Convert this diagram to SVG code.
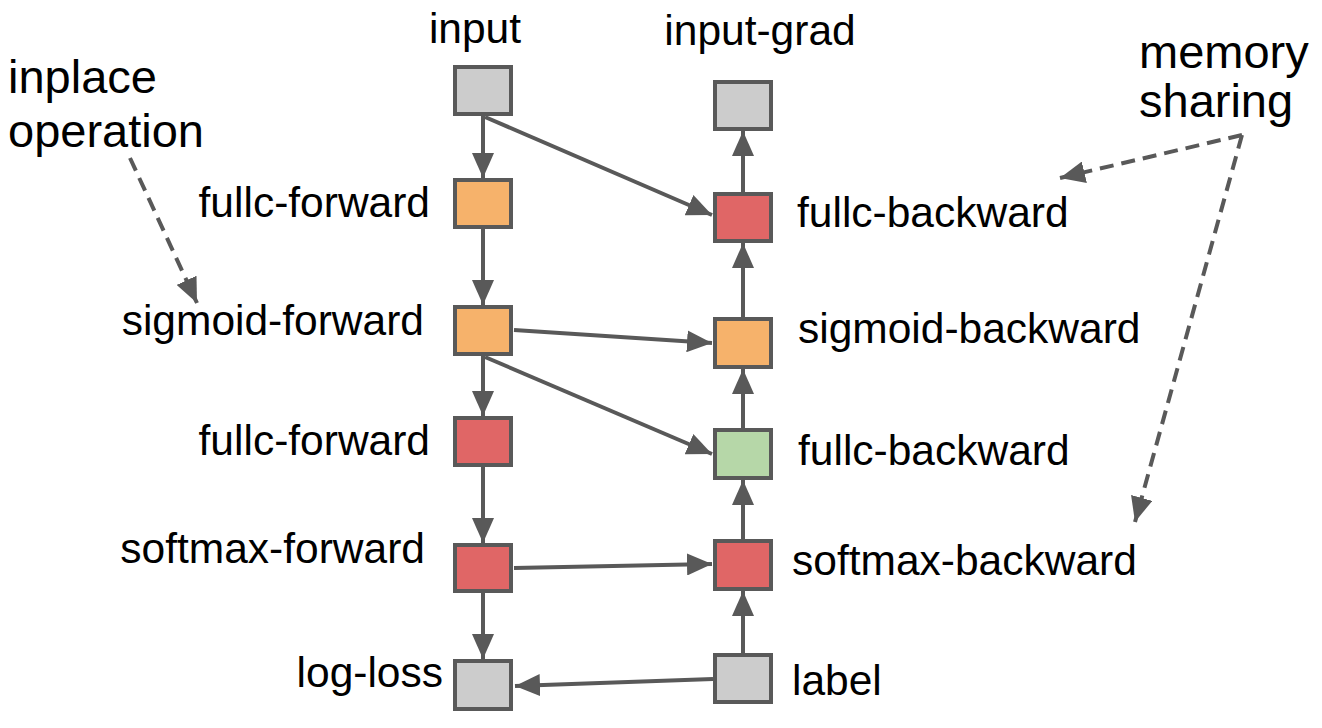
<svg xmlns="http://www.w3.org/2000/svg" width="1322" height="728" viewBox="0 0 1322 728">
<defs>
<style>
.box{stroke:#595959;stroke-width:4}
.gray{fill:#cccccc}.orange{fill:#f6b26b}.red{fill:#e06666}.green{fill:#b6d7a8}
.lbl{font-family:"Liberation Sans",Arial,sans-serif;font-size:42.5px;fill:#000}
.note{font-family:"Liberation Sans",Arial,sans-serif;font-size:47px;fill:#000}
.edge{stroke:#595959;stroke-width:4;fill:none;marker-end:url(#ah)}
.dash{stroke:#595959;stroke-width:4;fill:none;stroke-dasharray:14 8;marker-end:url(#ah)}
</style>
<marker id="ah" markerUnits="userSpaceOnUse" markerWidth="25" markerHeight="22" refX="25" refY="11" orient="auto">
<path d="M0,0 L25,11 L0,22 z" fill="#595959"/>
</marker>
</defs>
<rect width="1322" height="728" fill="#ffffff"/>
<g id="connectors">
<line class="edge" x1="483" y1="116" x2="483" y2="178"/>
<line class="edge" x1="483" y1="229" x2="483" y2="305"/>
<line class="edge" x1="483" y1="356" x2="483" y2="416"/>
<line class="edge" x1="483" y1="467" x2="483" y2="543"/>
<line class="edge" x1="483" y1="593" x2="483" y2="659"/>
<line class="edge" x1="485" y1="117" x2="712" y2="215"/>
<line class="edge" x1="514" y1="330" x2="712" y2="343"/>
<line class="edge" x1="485" y1="357" x2="712" y2="454"/>
<line class="edge" x1="514" y1="568" x2="712" y2="564"/>
<line class="edge" x1="713" y1="679" x2="515" y2="686"/>
<line class="edge" x1="743" y1="653" x2="743" y2="591"/>
<line class="edge" x1="743" y1="539" x2="743" y2="480"/>
<line class="edge" x1="743" y1="428" x2="743" y2="369"/>
<line class="edge" x1="743" y1="317" x2="743" y2="243"/>
<line class="edge" x1="743" y1="192" x2="743" y2="131"/>
<line class="dash" x1="130" y1="158" x2="197" y2="303"/>
<line class="dash" x1="1242" y1="135" x2="1060" y2="178"/>
<line class="dash" x1="1242" y1="135" x2="1135" y2="522"/>
</g>
<g id="node-input"><rect class="box gray" x="455" y="67" width="56" height="47"/><text class="lbl" x="475" y="43" text-anchor="middle">input</text></g>
<g id="node-fullc-forward-1"><rect class="box orange" x="455" y="180" width="56" height="47"/><text class="lbl" x="430" y="217" text-anchor="end">fullc-forward</text></g>
<g id="node-sigmoid-forward"><rect class="box orange" x="455" y="307" width="56" height="47"/><text class="lbl" x="424" y="335" text-anchor="end">sigmoid-forward</text></g>
<g id="node-fullc-forward-2"><rect class="box red" x="455" y="418" width="56" height="47"/><text class="lbl" x="430" y="455" text-anchor="end">fullc-forward</text></g>
<g id="node-softmax-forward"><rect class="box red" x="455" y="545" width="56" height="46"/><text class="lbl" x="425" y="563" text-anchor="end">softmax-forward</text></g>
<g id="node-log-loss"><rect class="box gray" x="455" y="661" width="56" height="48"/><text class="lbl" x="443" y="687" text-anchor="end">log-loss</text></g>
<g id="node-input-grad"><rect class="box gray" x="715" y="82" width="56" height="47"/><text class="lbl" x="760" y="45" text-anchor="middle">input-grad</text></g>
<g id="node-fullc-backward-1"><rect class="box red" x="715" y="194" width="56" height="47"/><text class="lbl" x="797" y="227">fullc-backward</text></g>
<g id="node-sigmoid-backward"><rect class="box orange" x="715" y="319" width="56" height="48"/><text class="lbl" x="798" y="343">sigmoid-backward</text></g>
<g id="node-fullc-backward-2"><rect class="box green" x="715" y="430" width="56" height="48"/><text class="lbl" x="798" y="465">fullc-backward</text></g>
<g id="node-softmax-backward"><rect class="box red" x="715" y="541" width="56" height="48"/><text class="lbl" x="792" y="575">softmax-backward</text></g>
<g id="node-label"><rect class="box gray" x="715" y="655" width="56" height="47"/><text class="lbl" x="792" y="695">label</text></g>
<g id="note-inplace"><text class="note" x="8" y="93">inplace</text><text class="note" x="8" y="147">operation</text></g>
<g id="note-memory"><text class="note" x="1139" y="68">memory</text><text class="note" x="1139" y="117">sharing</text></g>
</svg>
